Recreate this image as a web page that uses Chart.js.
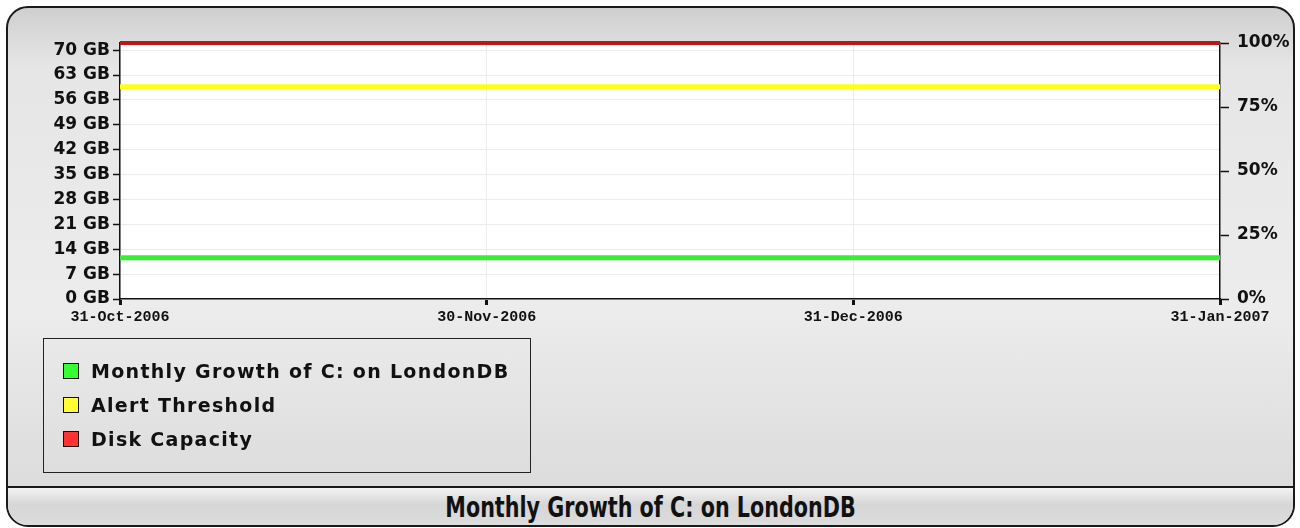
<!DOCTYPE html>
<html>
<head>
<meta charset="utf-8">
<script src="https://cdn.jsdelivr.net/npm/chart.js@4.4.0/dist/chart.umd.min.js"></script>
<style>
  html, body { margin: 0; padding: 0; background: #ffffff; }
  #frame {
    position: absolute; left: 6px; top: 6px; width: 1285px; height: 517px;
    border: 2px solid #1a1a1a; border-radius: 22px; overflow: hidden;
    background: linear-gradient(#cfcfcf 0px, #e6e6e6 60px, #ececec 300px, #dcdcdc 478px);
  }
  #titlebar {
    position: absolute; left: 0; right: 0; top: 478px; bottom: 0;
    border-top: 2px solid #1a1a1a;
    background: linear-gradient(#f2f2f2, #d6d6d6 45%, #dcdcdc);
    text-align: center; color: #111;
  }
  #titlebar span {
    display: inline-block; font: bold 23px "DejaVu Sans Condensed", "Liberation Sans Narrow", sans-serif;
    line-height: 38px; transform: scaleY(1.2); transform-origin: center;
  }
  #chartWrap { position: absolute; left: 0; top: 0; width: 1300px; height: 340px; }
  #legend {
    position: absolute; left: 43px; top: 338px; width: 488px; height: 135px;
    border: 1.5px solid #222; box-sizing: border-box;
    font: bold 19px "DejaVu Sans", Verdana, sans-serif; letter-spacing: 1.3px; color: #111;
    padding-top: 19px;
  }
  .item { height: 34px; line-height: 26px; padding-left: 19px; }
  .sw { display: inline-block; width: 16px; height: 16px; border: 1.5px solid #111; box-sizing: border-box;
        vertical-align: -1px; margin-right: 12px; }
</style>
</head>
<body>
<div id="frame"><div id="titlebar"><span>Monthly Growth of C: on LondonDB</span></div></div>
<div id="chartWrap"><canvas id="growthChart" width="1300" height="340"></canvas></div>
<div id="legend"></div>
<script>
/* Data */
const dateLabels = ['31-Oct-2006', '30-Nov-2006', '31-Dec-2006', '31-Jan-2007'];
const seriesNames = ['Monthly Growth of C: on LondonDB', 'Alert Threshold', 'Disk Capacity'];
const growthGB = [11.6, 11.6, 11.6, 11.6];
const alertGB = [59.7, 59.7, 59.7, 59.7];
const capacityGB = [72, 72, 72, 72];
const gbTicks = [0, 7, 14, 21, 28, 35, 42, 49, 56, 63, 70];
const pctTicks = [0, 25, 50, 75, 100];
const maxGB = 72;

const swatchColors = ['#33ff33', '#ffff33', '#ff3333'];
const lineColors = ['#33f033', '#ffff1a', '#b81818'];

const canvasGrowth = document.getElementById('growthChart');
const ctxGrowth = canvasGrowth.getContext('2d');

const tickFont = { family: '"DejaVu Sans", Verdana, sans-serif', size: 17, weight: 'bold' };

const growthChart = new Chart(ctxGrowth, {
  type: 'line',
  data: {
    labels: dateLabels,
    datasets: [{
      label: seriesNames[0],
      data: growthGB,
      borderColor: lineColors[0],
      borderWidth: 5,
      pointRadius: 0,
      fill: false
    },
    {
      label: seriesNames[1],
      data: alertGB,
      borderColor: lineColors[1],
      borderWidth: 5,
      pointRadius: 0,
      fill: false
    },
    {
      label: seriesNames[2],
      data: capacityGB,
      borderColor: lineColors[2],
      borderWidth: 4,
      pointRadius: 0,
      clip: 6,
      fill: false
    }]
  },
  options: {
    responsive: false,
    animation: false,
    events: [],
    layout: { padding: { top: 43, bottom: 0, left: 0, right: 0 } },
    plugins: {
      legend: { display: false },
      tooltip: { enabled: false }
    },
    scales: {
      x: {
        type: 'category',
        offset: false,
        grid: { color: '#ececec', tickColor: '#111', tickLength: 6, tickWidth: 3 },
        border: { color: '#111', width: 1.5 },
        ticks: {
          color: '#111', maxRotation: 0, autoSkip: false, padding: 3,
          font: { family: '"Liberation Mono", "DejaVu Sans Mono", monospace', size: 15, weight: 'bold' }
        },
        afterFit: function (scale) { scale.height = 41; }
      },
      y: {
        position: 'left',
        min: 0,
        max: maxGB,
        afterBuildTicks: function (scale) { scale.ticks = gbTicks.map(v => ({ value: v })); },
        grid: { color: '#ececec', tickColor: '#111', tickLength: 7, tickWidth: 1.5 },
        border: { color: '#111', width: 1.5 },
        ticks: {
          color: '#111', padding: 3, font: tickFont,
          callback: function (value) { return value + ' GB'; }
        },
        afterFit: function (scale) { scale.width = 120; }
      },
      y2: {
        position: 'right',
        min: 0,
        max: 100,
        afterBuildTicks: function (scale) { scale.ticks = pctTicks.map(v => ({ value: v })); },
        grid: { drawOnChartArea: false, tickColor: '#111', tickLength: 9, tickWidth: 1.5 },
        border: { color: '#111', width: 1.5 },
        ticks: {
          color: '#111', padding: 8, font: tickFont,
          callback: function (value) { return value + '%'; }
        },
        afterFit: function (scale) { scale.width = 80; }
      }
    }
  },
  plugins: [{
    id: 'plotBackground',
    beforeDraw: function (chart) {
      const a = chart.chartArea;
      chart.ctx.save();
      chart.ctx.fillStyle = '#ffffff';
      chart.ctx.fillRect(a.left, a.top, a.right - a.left, a.bottom - a.top);
      chart.ctx.restore();
    }
  }]
});

// legend built from the datasets
const legendDiv = document.getElementById('legend');
growthChart.data.datasets.forEach((dataset, i) => {
  const row = document.createElement('div');
  row.className = 'item';
  row.innerHTML = '<span class="sw" style="background:' + swatchColors[i] + '"></span>' + dataset.label;
  legendDiv.appendChild(row);
});
</script>
</body>
</html>
